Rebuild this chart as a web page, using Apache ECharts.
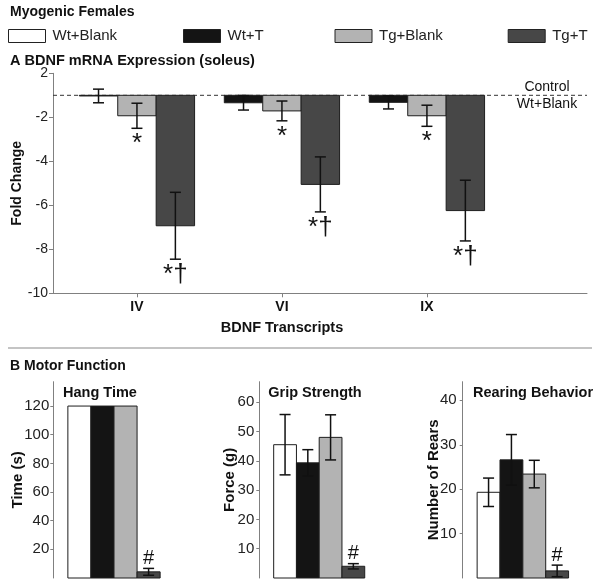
<!DOCTYPE html>
<html><head><meta charset="utf-8">
<script src="https://cdn.jsdelivr.net/npm/echarts@6/dist/echarts.min.js"></script>
<style>html,body{margin:0;padding:0;background:#fff}#c{width:600px;height:583px}</style>
</head><body><div id="c"></div>
<script>
// ---------- data ----------
const groups = ['Wt+Blank', 'Wt+T', 'Tg+Blank', 'Tg+T'];
const groupColors = ['#ffffff', '#141414', '#b3b3b3', '#474747'];

const transcripts = ['IV', 'VI', 'IX'];
const foldTickLabels = [2, -2, -4, -6, -8, -10];
const controlFold = -1;
// fold change (soleus), Wt+Blank is control (baseline)
const bdnfWtT = [-1.03, -1.34, -1.32];
const bdnfWtTErr = [0.31, 0.33, 0.30];
const bdnfTgBlank = [-1.93, -1.71, -1.93];
const bdnfTgBlankErr = [0.57, 0.45, 0.48];
const bdnfTgT = [-6.93, -5.05, -6.24];
const bdnfTgTErr = [1.52, 1.25, 1.38];
const bdnfWtTSig = ['', '', ''];
const bdnfTgBlankSig = ['*', '*', '*'];
const bdnfTgTSig = ['*\u2020', '*\u2020', '*\u2020'];

const hangTime = [120, 120, 120, 4.3];
const hangErr = [0, 0, 0, 2.4];
const hangSig = ['', '', '', '#'];
const hangTicks = [20, 40, 60, 80, 100, 120];

const gripForce = [45.5, 39.3, 48.0, 4.0];
const gripErr = [10.3, 4.5, 7.7, 0.9];
const gripSig = ['', '', '', '#'];
const gripTicks = [10, 20, 30, 40, 50, 60];

const rears = [19.3, 26.6, 23.4, 1.6];
const rearErr = [3.2, 5.7, 3.1, 1.3];
const rearSig = ['', '', '', '#'];
const rearTicks = [10, 20, 30, 40];

// ---------- helpers ----------
const FF = '"Liberation Sans", Arial, Helvetica, sans-serif';
function foldToAxis(f) { return f >= 1 ? f - 2 : f; }
function axisToFold(v) { return v > -1 ? v + 2 : v; }

function barRenderer(o) {
  return function (params, api) {
    const xc = api.value(0);
    const v = api.value(1), e = api.value(2);
    const a = api.coord([xc - o.halfW, o.base]);
    const b = api.coord([xc + o.halfW, v]);
    const children = [{
      type: 'rect',
      shape: { x: Math.min(a[0], b[0]), y: Math.min(a[1], b[1]), width: Math.abs(b[0] - a[0]), height: Math.max(Math.abs(b[1] - a[1]), 0.5) },
      style: { fill: o.color, stroke: '#1e1e1e', lineWidth: 1 }
    }];
    let lowY = b[1], highY = b[1];
    if (e > 0) {
      const t = api.coord([xc, v + e]), bt = api.coord([xc, v - e]);
      highY = t[1]; lowY = bt[1];
      const cw = 5.5;
      children.push({ type: 'line', shape: { x1: t[0], y1: t[1], x2: bt[0], y2: bt[1] }, style: { stroke: '#111', lineWidth: 1.5 } });
      children.push({ type: 'line', shape: { x1: t[0] - cw, y1: t[1], x2: t[0] + cw, y2: t[1] }, style: { stroke: '#111', lineWidth: 1.5 } });
      children.push({ type: 'line', shape: { x1: bt[0] - cw, y1: bt[1], x2: bt[0] + cw, y2: bt[1] }, style: { stroke: '#111', lineWidth: 1.5 } });
    }
    const s = o.sig[params.dataIndex];
    if (s) {
      const cx = api.coord([xc, v])[0];
      children.push({
        type: 'text',
        style: o.below
          ? { x: cx, y: lowY + 3, text: s, fill: '#111', font: '26px ' + FF, align: 'center', verticalAlign: 'top' }
          : { x: cx, y: highY, text: s, fill: '#111', font: '20px ' + FF, align: 'center', verticalAlign: 'bottom' }
      });
    }
    return { type: 'group', children: children };
  };
}

// ---------- top chart series ----------
const topOffsets = [-0.265, 0, 0.265];
const topHalfW = 0.1325;
const topSets = [
  { name: 'Wt+T', vals: bdnfWtT, errs: bdnfWtTErr, sig: bdnfWtTSig, color: groupColors[1] },
  { name: 'Tg+Blank', vals: bdnfTgBlank, errs: bdnfTgBlankErr, sig: bdnfTgBlankSig, color: groupColors[2] },
  { name: 'Tg+T', vals: bdnfTgT, errs: bdnfTgTErr, sig: bdnfTgTSig, color: groupColors[3] }
];
const topXMin = 0.421, topXMax = 4.104;
const series = [];
series.push({
  type: 'line', xAxisIndex: 0, yAxisIndex: 0, z: 1, silent: true, symbol: 'none',
  data: [[topXMin, foldToAxis(controlFold)], [topXMax, foldToAxis(controlFold)]],
  lineStyle: { color: '#333', width: 1, type: [4, 3] }
});
topSets.forEach((s, k) => {
  series.push({
    type: 'custom', name: s.name, xAxisIndex: 0, yAxisIndex: 0, z: 3, clip: false,
    renderItem: barRenderer({ base: foldToAxis(controlFold), halfW: topHalfW, color: s.color, sig: s.sig, below: true }),
    data: transcripts.map((t, i) => [i + 1 + topOffsets[k], foldToAxis(s.vals[i]), s.errs[i]])
  });
});

// ---------- bottom chart series ----------
const bottomSets = [
  { vals: hangTime, errs: hangErr, sig: hangSig },
  { vals: gripForce, errs: gripErr, sig: gripSig },
  { vals: rears, errs: rearErr, sig: rearSig }
];
const bw = 0.19;
bottomSets.forEach((set, gi) => {
  groups.forEach((g, k) => {
    series.push({
      type: 'custom', name: g, xAxisIndex: gi + 1, yAxisIndex: gi + 1, z: 3, clip: false,
      renderItem: barRenderer({ base: 0, halfW: bw / 2, color: groupColors[k], sig: [set.sig[k]], below: false }),
      data: [[0.5 + (k - 1.5) * bw, set.vals[k], set.errs[k]]]
    });
  });
});

// ---------- axes ----------
const axisGray = '#808080';
const grids = [
  { left: 53, top: 73.3, width: 534, height: 220 },
  { left: 53.3, top: 381.7, width: 121.4, height: 196.3 },
  { left: 259.3, top: 381.7, width: 119.8, height: 196.3 },
  { left: 462.7, top: 381.7, width: 120.3, height: 196.3 }
];
const xAxes = [
  {
    gridIndex: 0, type: 'value', min: topXMin, max: topXMax,
    axisLine: { show: true, onZero: false, lineStyle: { color: axisGray, width: 1 } },
    axisTick: { show: true, length: 4, lineStyle: { color: axisGray }, customValues: [1, 2, 3] },
    axisLabel: { customValues: [1, 2, 3], formatter: v => transcripts[Math.round(v) - 1] || '', fontFamily: FF, fontWeight: 'bold', fontSize: 14, color: '#111', margin: 7 },
    splitLine: { show: false }
  }
];
for (let i = 1; i <= 3; i++) xAxes.push({ gridIndex: i, type: 'value', min: 0, max: 1, show: false });

const yAxes = [{
  gridIndex: 0, type: 'value', min: -10, max: 0, interval: 2,
  name: 'Fold Change', nameLocation: 'middle', nameGap: 29, nameMoveOverlap: false,
  nameTextStyle: { fontFamily: FF, fontWeight: 'bold', fontSize: 14, color: '#111' },
  axisLine: { show: true, lineStyle: { color: axisGray } },
  axisTick: { show: true, length: 4, lineStyle: { color: axisGray } },
  axisLabel: { formatter: v => String(axisToFold(v)), fontFamily: FF, fontSize: 14, color: '#222', margin: 5 },
  splitLine: { show: false }
}];
const bottomY = [
  { max: 137, ticks: hangTicks, name: 'Time (s)', gap: 28, margin: 4 },
  { max: 67, ticks: gripTicks, name: 'Force (g)', gap: 22, margin: 5 },
  { max: 44.2, ticks: rearTicks, name: 'Number of Rears', gap: 21.5, margin: 6 }
];
bottomY.forEach((b, i) => {
  yAxes.push({
    gridIndex: i + 1, type: 'value', min: 0, max: b.max,
    name: b.name, nameLocation: 'middle', nameGap: b.gap, nameMoveOverlap: false,
    nameTextStyle: { fontFamily: FF, fontWeight: 'bold', fontSize: 15, color: '#111' },
    axisLine: { show: true, lineStyle: { color: axisGray } },
    axisTick: { show: true, length: 3, lineStyle: { color: axisGray }, customValues: b.ticks },
    axisLabel: { customValues: b.ticks, fontFamily: FF, fontSize: 15, color: '#222', margin: b.margin },
    splitLine: { show: false }
  });
});

// ---------- legends ----------
const legendLeft = [8, 183, 334.5, 507.7];
const legends = groups.map((g, i) => ({
  left: legendLeft[i], top: 28.5, padding: 0, itemWidth: 37, itemHeight: 13, selectedMode: false,
  data: [{ name: g, icon: 'rect', itemStyle: { color: groupColors[i], borderColor: '#222', borderWidth: 1 } }],
  textStyle: { fontFamily: FF, fontSize: 15, color: '#222', padding: [0, 0, 0, 2] }
}));

// ---------- static text ----------
function txt(x, y, s, font, align) {
  return { type: 'text', x: x, y: y, silent: true, style: { text: s, font: font, fill: '#111', align: align || 'left', verticalAlign: 'middle' } };
}
const graphics = [
  txt(10, 12, 'Myogenic Females', 'bold 14px ' + FF),
  txt(10, 61, 'A BDNF mRNA Expression (soleus)', 'bold 14.5px ' + FF),
  txt(547, 87, 'Control', '14px ' + FF, 'center'),
  txt(547, 104, 'Wt+Blank', '14px ' + FF, 'center'),
  txt(282, 328, 'BDNF Transcripts', 'bold 14.5px ' + FF, 'center'),
  { type: 'line', silent: true, shape: { x1: 8, y1: 348, x2: 592, y2: 348 }, style: { stroke: '#b0b0b0', lineWidth: 1.5 } },
  txt(10, 366, 'B Motor Function', 'bold 14px ' + FF),
  txt(100, 393, 'Hang Time', 'bold 14.5px ' + FF, 'center'),
  txt(315, 393, 'Grip Strength', 'bold 14.5px ' + FF, 'center'),
  txt(533, 393, 'Rearing Behavior', 'bold 14.5px ' + FF, 'center')
];

const chart = echarts.init(document.getElementById('c'), null, { renderer: 'canvas' });
chart.setOption({
  animation: false,
  backgroundColor: '#ffffff',
  legend: legends,
  grid: grids,
  xAxis: xAxes,
  yAxis: yAxes,
  series: series,
  graphic: graphics
});
</script>
</body></html>
